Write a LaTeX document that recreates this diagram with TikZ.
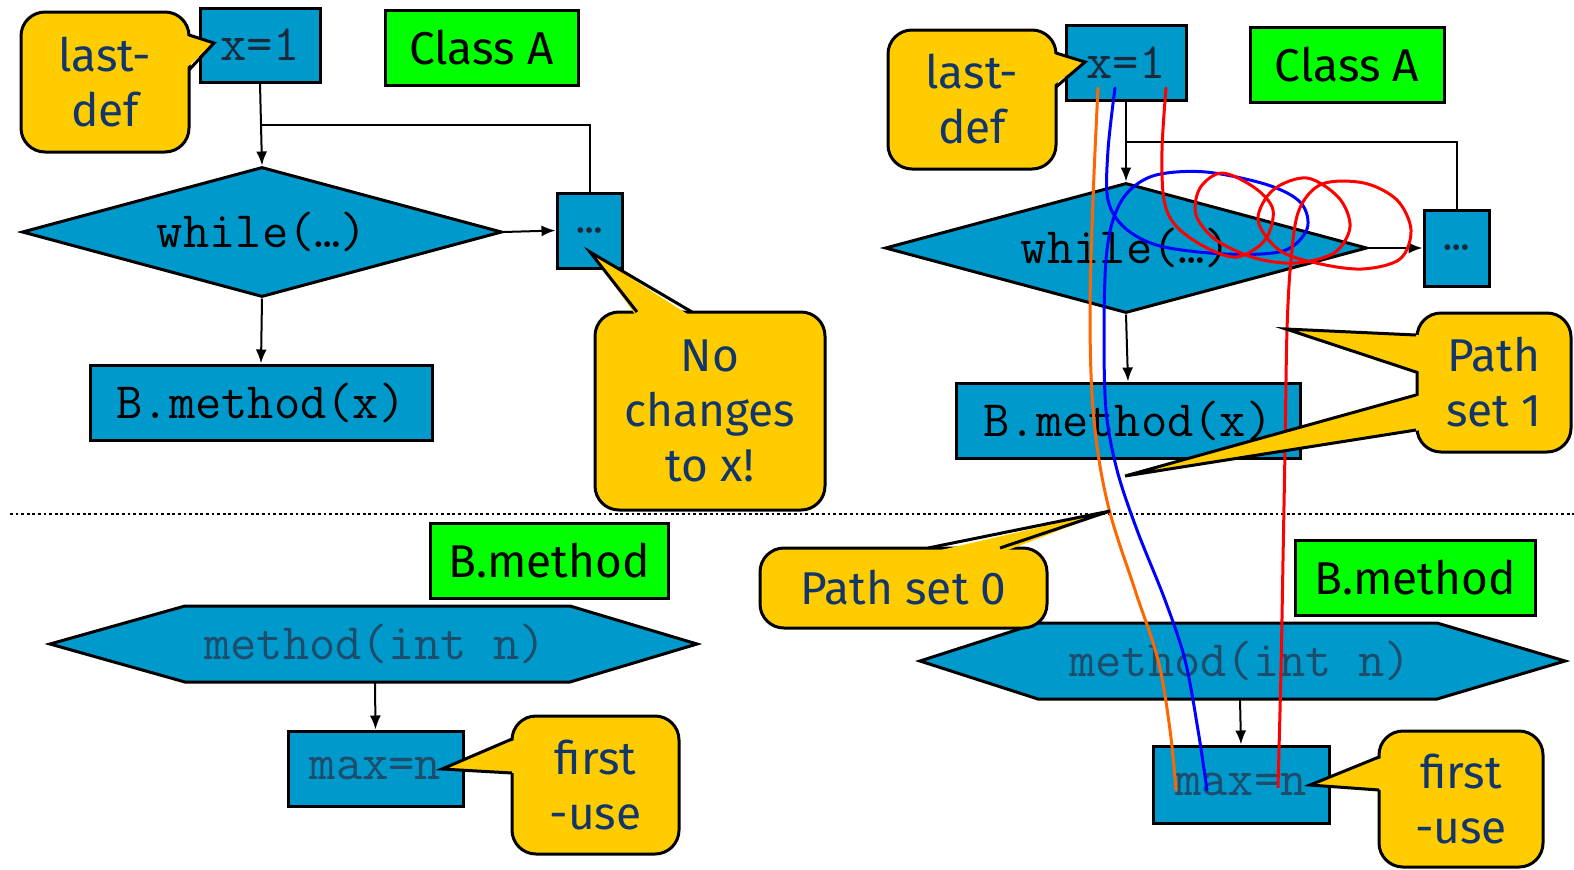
\documentclass[tikz,border=0pt]{standalone}
\usepackage{fontspec}
\newfontfamily\comicf{Fira Sans}
\usetikzlibrary{shapes.geometric,arrows.meta,calc}
\definecolor{cblue}{HTML}{0099CC}
\definecolor{cyellow}{HTML}{FFCC00}
\definecolor{cgreen}{HTML}{00FF00}
\definecolor{cnavy}{HTML}{12366B}
\definecolor{cdark}{HTML}{1B2A3A}
\definecolor{cteal}{HTML}{1E4D6B}
\definecolor{corange}{HTML}{FF6600}
\tikzset{
  codebox/.style={draw=black, line width=1.5pt, fill=cblue, inner sep=0pt, font=\ttfamily\fontsize{25.5}{28}\selectfont},
  greenbox/.style={draw=black, line width=1.5pt, fill=cgreen, inner sep=0pt, font=\comicf\fontsize{23}{28}\selectfont},
  callbox/.style={draw=black, line width=1.5pt, fill=cyellow, rounded corners=12pt, inner sep=0pt, align=center, text=cnavy, font=\comicf\fontsize{23}{27.5}\selectfont},
  whilebox/.style={diamond, aspect=3.7, draw=black, line width=1.5pt, fill=cblue, inner sep=0pt, font=\ttfamily\fontsize{25.5}{28}\selectfont},
  hexshape/.style={draw=black, line width=1.5pt, fill=cblue, line join=miter},
  hextext/.style={inner sep=0pt, text=cteal, font=\ttfamily\fontsize{25.5}{28}\selectfont},
  conn/.style={line width=1pt, -{Latex[length=7pt,width=5.5pt]}},
  plainline/.style={line width=1pt},
  ptrline/.style={line width=1.5pt, line join=miter},
  curve/.style={line width=1.5pt, line cap=round, line join=round},
}
\begin{document}
\begin{tikzpicture}[x=0.5pt,y=-0.5pt]
\useasboundingbox (0,0) rectangle (1574,869);

% ================= LEFT =================
\node[codebox, minimum width=60pt, minimum height=37pt, text=cdark] (x1L) at (260,45) {x=1};
\node[greenbox, minimum width=96.5pt, minimum height=37.5pt] (classL) at (481.5,47.5) {Class A};
\node[whilebox, minimum width=240pt, minimum height=65pt] (whileL) at (262,232) {while(…)};
\node[codebox, minimum width=32.5pt, minimum height=37.5pt, text=cdark] (dotsL) at (589.5,230.5) {…};
\node[codebox, minimum width=171pt, minimum height=37.5pt] (bmxL) at (261,402.5) {B.method(x)};
\coordinate (brL) at (260,125);
\draw[conn] (x1L.south) -- (whileL.north);
\draw[plainline] (brL) -| (dotsL.north);
\draw[conn] (whileL.east) -- (dotsL.west);
\draw[conn] (whileL.south) -- (bmxL.north);

\node[callbox, minimum width=84pt, minimum height=70pt] (ldL) at (105,82) {last-\\def};
\fill[cyellow] (184,35) -- (214,43) -- (184,70) -- cycle;
\draw[ptrline] (189,35) -- (214,43) -- (189,70);

\node[callbox, minimum width=115pt, minimum height=99pt] (ncL) at (710,411) {No\\changes\\to x!};
\fill[cyellow] (637,317) -- (590,252) -- (692,317) -- cycle;
\draw[ptrline] (637,312) -- (590,252) -- (692,312);

% dotted separator
\coordinate (sepA) at (10,514);
\coordinate (sepB) at (1574,514);
\draw[line width=1.3pt, dash pattern=on 1.4pt off 1.4pt] (sepA) -- (sepB);

\node[greenbox, minimum width=119pt, minimum height=37.5pt] (bmL) at (549,560.5) {B.method};
\path[hexshape] (50,644) -- (185,606) -- (570,606) -- (697,644) -- (570,682) -- (185,682) -- cycle;
\node[hextext, minimum width=180pt, minimum height=38pt] (hexL) at (375,644) {method(int n)};
\node[codebox, minimum width=87.5pt, minimum height=37.5pt, text=cteal] (maxL) at (375.5,768.5) {max=n};
\draw[conn] (hexL.south) -- (maxL.north);

\node[callbox, minimum width=83.5pt, minimum height=69pt] (fuL) at (595.5,785) {first\\-use};
\fill[cyellow] (517,739) -- (442,769) -- (517,773) -- cycle;
\draw[ptrline] (512,739) -- (442,769) -- (512,773);

% ================= RIGHT =================
\node[codebox, minimum width=60pt, minimum height=37.5pt, text=cdark] (x1R) at (1126,62.5) {x=1};
\node[greenbox, minimum width=97pt, minimum height=37.5pt] (classR) at (1347,64.5) {Class A};
\node[whilebox, minimum width=241pt, minimum height=65pt] (whileR) at (1126,248) {while(…)};
\node[codebox, minimum width=32.5pt, minimum height=38pt, text=cdark] (dotsR) at (1456.5,248) {…};
\node[codebox, minimum width=172pt, minimum height=37.5pt] (bmxR) at (1128,420.5) {B.method(x)};
\coordinate (brR) at (1126,142);
\draw[conn] (x1R.south) -- (whileR.north);
\draw[plainline] (brR) -| (dotsR.north);
\draw[conn] (whileR.east) -- (dotsR.west);
\draw[conn] (whileR.south) -- (bmxR.north);

\node[greenbox, minimum width=120pt, minimum height=37.5pt] (bmR) at (1415,577.5) {B.method};
\path[hexshape] (920,661) -- (1038,623) -- (1437,623) -- (1565,661) -- (1437,699) -- (1038,699) -- cycle;
\node[hextext, minimum width=180pt, minimum height=38pt] (hexR) at (1240,661) {method(int n)};
\node[codebox, minimum width=88pt, minimum height=38.5pt, text=cteal] (maxR) at (1241,784.5) {max=n};
\draw[conn] (hexR.south) -- (maxR.north);

% coloured paths
\draw[curve, corange] plot[smooth, tension=0.6] coordinates {(1098,88) (1093,200) (1090,320) (1094,420) (1108,505) (1135,590) (1158,660) (1170,730) (1176,790)};
\draw[curve, blue] plot[smooth, tension=0.55] coordinates {(1115,88) (1108,150) (1108,200) (1125,228) (1160,246) (1225,254) (1283,251) (1307,229) (1301,203) (1268,185) (1206,172) (1156,175) (1128,192) (1113,220) (1106,260) (1104,330) (1106,410) (1117,470) (1137,530) (1165,600) (1185,660) (1198,730) (1207,790)};
\draw[curve, red] plot[smooth, tension=0.55] coordinates {(1166,88) (1162,150) (1164,200) (1176,226) (1205,247) (1237,257) (1265,240) (1273,210) (1255,188) (1222,173) (1200,188) (1196,215) (1216,240) (1255,258) (1295,263) (1334,253) (1350,227) (1339,198) (1307,178) (1273,190) (1258,220) (1279,250) (1316,263) (1362,269) (1400,259) (1411,230) (1397,200) (1364,183) (1322,184) (1299,210) (1291,260) (1287,330) (1285,450) (1283,560) (1281,670) (1278,787)};

% callouts on the right
\node[callbox, minimum width=84pt, minimum height=69.5pt] (ldR) at (972,99.5) {last-\\def};
\fill[cyellow] (1051,53) -- (1085,62) -- (1051,87) -- cycle;
\draw[ptrline] (1056,53) -- (1085,62) -- (1056,87);

\node[callbox, minimum width=77pt, minimum height=69.5pt] (ps1) at (1494,382.5) {Path\\set 1};
\fill[cyellow] (1421,335) -- (1286,329) -- (1421,372) -- cycle;
\draw[ptrline] (1416,335) -- (1286,329) -- (1416,372);
\fill[cyellow] (1421,395) -- (1125,476) -- (1421,430) -- cycle;
\draw[ptrline] (1416,395) -- (1125,476) -- (1416,430);

\node[callbox, minimum width=143.5pt, minimum height=40pt] (ps0) at (903.5,588) {Path set 0};
\fill[cyellow] (928,553) -- (1110,511) -- (1000,553) -- cycle;
\draw[ptrline] (928,548) -- (1110,511) -- (1000,548);

\node[callbox, minimum width=82pt, minimum height=68pt] (fuR) at (1461,799) {first\\-use};
\fill[cyellow] (1384,757) -- (1310,785) -- (1384,790) -- cycle;
\draw[ptrline] (1379,757) -- (1310,785) -- (1379,790);
\end{tikzpicture}
\end{document}
